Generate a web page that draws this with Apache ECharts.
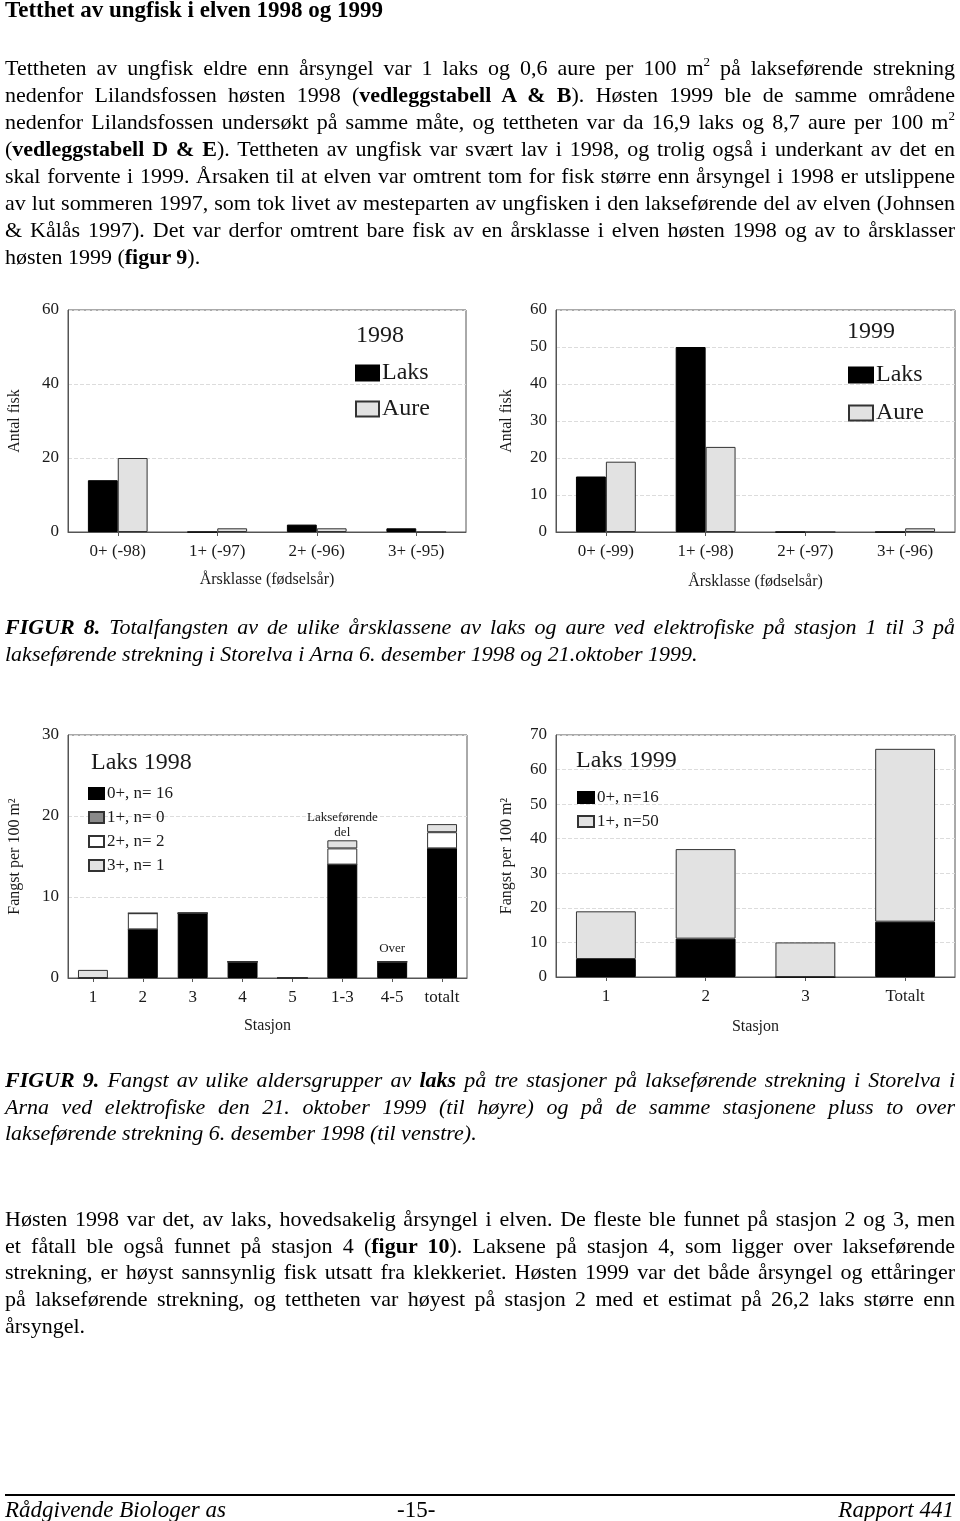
<!DOCTYPE html>
<html><head><meta charset="utf-8">
<script src="https://cdn.jsdelivr.net/npm/echarts@6/dist/echarts.min.js"></script>
<style>
html,body{margin:0;padding:0;background:#fff;}
#page{position:relative;width:960px;height:1521px;overflow:hidden;font-family:"Liberation Serif","Times New Roman",serif;color:#000;}
#chart{position:absolute;left:0;top:0;width:960px;height:1521px;z-index:1;}
.ln{position:absolute;left:5px;width:950px;font-size:22px;line-height:27px;white-space:normal;z-index:3;overflow:visible;}
.j{text-align:justify;text-align-last:justify;}
.i{font-style:italic;}
sup{font-size:13px;line-height:0;vertical-align:9px;}
#rule{position:absolute;left:5px;width:950px;top:1494px;height:0;border-top:2px solid #000;z-index:3;}
.ft{position:absolute;top:1496px;font-size:23px;line-height:27px;font-style:italic;z-index:3;}
</style></head>
<body><div id="page">
<div id="chart"></div>
<div class="ln" style="top:-4px;font-weight:bold;font-size:23px;">Tetthet av ungfisk i elven 1998 og 1999</div>

<div class="ln j" style="top:54px">Tettheten av ungfisk eldre enn årsyngel var 1 laks og 0,6 aure per 100 m<sup>2</sup> på lakseførende strekning</div>
<div class="ln j" style="top:81px">nedenfor Lilandsfossen høsten 1998 (<b>vedleggstabell A &amp; B</b>). Høsten 1999 ble de samme områdene</div>
<div class="ln j" style="top:108px">nedenfor Lilandsfossen undersøkt på samme måte, og tettheten var da 16,9 laks og 8,7 aure per 100 m<sup>2</sup></div>
<div class="ln j" style="top:135px">(<b>vedleggstabell D &amp; E</b>). Tettheten av ungfisk var svært lav i 1998, og trolig også i underkant av det en</div>
<div class="ln j" style="top:162px">skal forvente i 1999. Årsaken til at elven var omtrent tom for fisk større enn årsyngel i 1998 er utslippene</div>
<div class="ln j" style="top:189px">av lut sommeren 1997, som tok livet av mesteparten av ungfisken i den lakseførende del av elven (Johnsen</div>
<div class="ln j" style="top:216px">&amp; Kålås 1997). Det var derfor omtrent bare fisk av en årsklasse i elven høsten 1998 og av to årsklasser</div>
<div class="ln" style="top:243px">høsten 1999 (<b>figur 9</b>).</div>

<div class="ln j i" style="top:613px"><b>FIGUR 8.</b> Totalfangsten av de ulike årsklassene av laks og aure ved elektrofiske på stasjon 1 til 3 på</div>
<div class="ln i" style="top:640px">lakseførende strekning i Storelva i Arna 6. desember 1998 og 21.oktober 1999.</div>

<div class="ln j i" style="top:1066px"><b>FIGUR 9.</b> Fangst av ulike aldersgrupper av <b>laks</b> på tre stasjoner på lakseførende strekning i Storelva i</div>
<div class="ln j i" style="top:1093px">Arna ved elektrofiske den 21. oktober 1999 (til høyre) og på de samme stasjonene pluss to over</div>
<div class="ln i" style="top:1119px">lakseførende strekning 6. desember 1998 (til venstre).</div>

<div class="ln j" style="top:1205px">Høsten 1998 var det, av laks, hovedsakelig årsyngel i elven. De fleste ble funnet på stasjon 2 og 3, men</div>
<div class="ln j" style="top:1232px">et fåtall ble også funnet på stasjon 4 (<b>figur 10</b>). Laksene på stasjon 4, som ligger over lakseførende</div>
<div class="ln j" style="top:1258px">strekning, er høyst sannsynlig fisk utsatt fra klekkeriet. Høsten 1999 var det både årsyngel og ettåringer</div>
<div class="ln j" style="top:1285px">på lakseførende strekning, og tettheten var høyest på stasjon 2 med et estimat på 26,2 laks større enn</div>
<div class="ln" style="top:1312px">årsyngel.</div>

<div id="rule"></div>
<div class="ft" style="left:5px">Rådgivende Biologer as</div>
<div class="ft" style="left:397px;font-style:normal">-15-</div>
<div class="ft" style="right:6px">Rapport 441</div>
</div>
<script>
// fit text lines: justify if they fit, else compress horizontally
(function () {
  const W = 950;
  document.querySelectorAll('.ln').forEach(function (el) {
    el.style.whiteSpace = 'nowrap';
    el.style.width = 'auto';
    const w = el.getBoundingClientRect().width;
    if (w > W) {
      el.style.transformOrigin = '0 0';
      el.style.transform = 'scaleX(' + (W / w) + ')';
      el.style.textAlign = 'left';
      el.style.textAlignLast = 'auto';
    } else {
      el.style.whiteSpace = 'normal';
      el.style.width = W + 'px';
    }
  });
})();
</script>
<script>
// ---- data ----
const cats98 = ['0+ (-98)', '1+ (-97)', '2+ (-96)', '3+ (-95)'];
const laks98 = [14, 0, 2, 1];
const aure98 = [20, 1, 1, 0];

const cats99 = ['0+ (-99)', '1+ (-98)', '2+ (-97)', '3+ (-96)'];
const laks99 = [15, 50, 0, 0];
const aure99 = [19, 23, 0, 1];

const stations98 = ['1', '2', '3', '4', '5', '1-3', '4-5', 'totalt'];
const s98age0 = [0, 6, 8, 2, 0, 14, 2, 16];
const s98age1 = [0, 0, 0, 0, 0, 0, 0, 0];
const s98age2 = [0, 2, 0, 0, 0, 2, 0, 2];
const s98age3 = [1, 0, 0, 0, 0, 1, 0, 1];

const stations99 = ['1', '2', '3', 'Totalt'];
const s99age0 = [5.2, 11.1, 0, 16];
const s99age1 = [13.8, 25.9, 10, 50];

const yTicks1 = [0, 60, 20];
const yTicks2 = [0, 60, 10];
const yTicks3 = [0, 30, 10];
const yTicks4 = [0, 70, 10];

// ---- chart ----
const FF = '"Liberation Serif","Times New Roman",serif';
const TXT = '#1a1a1a';
const chart = echarts.init(document.getElementById('chart'), null, {renderer: 'canvas'});

function grid(l, t, w, h) {
  return {left: l, top: t, width: w, height: h, show: true, borderColor: '#555', borderWidth: 1,
    backgroundColor: 'transparent', containLabel: false, outerBoundsMode: 'none'};
}
function xAx(gi, data, name, gap) {
  return {type: 'category', gridIndex: gi, data: data, name: name, nameLocation: 'middle', nameGap: gap,
    nameTextStyle: {fontFamily: FF, fontSize: 16, color: TXT},
    axisLine: {show: true, lineStyle: {color: '#555', width: 1}},
    axisTick: {show: true, alignWithLabel: true, length: 4, lineStyle: {color: '#555'}},
    axisLabel: {fontFamily: FF, fontSize: 17, color: TXT, margin: 11, interval: 0},
    splitLine: {show: false}};
}
function yAx(gi, ticks, name, gap) {
  return {type: 'value', gridIndex: gi, min: ticks[0], max: ticks[1], interval: ticks[2], name: name,
    nameLocation: 'middle', nameGap: gap, nameRotate: 90,
    nameTextStyle: {fontFamily: FF, fontSize: 16, color: TXT},
    axisLine: {show: true, lineStyle: {color: '#555', width: 1}},
    axisTick: {show: false},
    axisLabel: {fontFamily: FF, fontSize: 17, color: TXT, margin: 9},
    splitLine: {show: true, lineStyle: {color: '#dcdcdc', type: 'dashed', width: 1}}};
}
function barS(name, gi, data, color, border, extra) {
  return Object.assign({type: 'bar', name: name, xAxisIndex: gi, yAxisIndex: gi, data: data,
    barGap: '0%', barCategoryGap: '40%', animation: false,
    itemStyle: {color: color, borderColor: border, borderWidth: 1}}, extra || {});
}
function legend(l, t, names, fs, iw, ih, gap) {
  return {left: l, top: t, orient: 'vertical', data: names, selectedMode: false, icon: 'rect',
    itemWidth: iw, itemHeight: ih, itemGap: gap, padding: 0,
    textStyle: {fontFamily: FF, fontSize: fs, lineHeight: fs, color: TXT, padding: [0, 0, 0, -2]}};
}
function ttl(text, l, t, fs) {
  return {text: text, left: l, top: t, padding: 0,
    textStyle: {fontFamily: FF, fontSize: fs, fontWeight: 'normal', color: TXT}};
}

const BLACK = '#000000', LG = '#e2e2e2', DG = '#8a8a8a', WH = '#ffffff', BD = '#333333';

const option = {
  backgroundColor: 'transparent',
  animation: false,
  textStyle: {fontFamily: FF},
  title: [
    ttl('1998', 356, 324, 24),
    ttl('1999', 847, 320, 24),
    ttl('Laks 1998', 91, 751, 24),
    ttl('Laks 1999', 576, 749, 24)
  ],
  legend: [
    legend(355, 361, ['Laks', 'Aure'], 24, 23, 15, 12),
    legend(848, 363, ['Laks', 'Aure'], 24, 24, 15, 14),
    legend(88, 785, ['0+, n= 16', '1+, n= 0', '2+, n= 2', '3+, n= 1'], 17, 15, 11, 7),
    legend(577, 789, ['0+, n=16', '1+, n=50'], 17, 16, 11, 7)
  ],
  grid: [
    grid(68, 310, 398, 222),
    grid(556, 310, 399, 222),
    grid(68, 735, 399, 243),
    grid(556, 735, 399, 242)
  ],
  xAxis: [
    xAx(0, cats98, 'Årsklasse (fødselsår)', 40),
    xAx(1, cats99, 'Årsklasse (fødselsår)', 42),
    xAx(2, stations98, 'Stasjon', 40),
    xAx(3, stations99, 'Stasjon', 42)
  ],
  yAxis: [
    yAx(0, yTicks1, 'Antal fisk', 45),
    yAx(1, yTicks2, 'Antal fisk', 41),
    yAx(2, yTicks3, 'Fangst per 100 m²', 45),
    yAx(3, yTicks4, 'Fangst per 100 m²', 41)
  ],
  series: [
    barS('Laks', 0, laks98, BLACK, BLACK),
    barS('Aure', 0, aure98, LG, BD),
    barS('Laks', 1, laks99, BLACK, BLACK),
    barS('Aure', 1, aure99, LG, BD),
    barS('0+, n= 16', 2, s98age0, BLACK, BLACK, {stack: 'a98'}),
    barS('1+, n= 0', 2, s98age1, DG, BD, {stack: 'a98'}),
    barS('2+, n= 2', 2, s98age2, WH, BD, {stack: 'a98'}),
    barS('3+, n= 1', 2, s98age3, LG, BD, {stack: 'a98',
      markPoint: {symbol: 'rect', symbolSize: 0, silent: true,
        label: {show: true, position: 'top', fontFamily: FF, fontSize: 13, lineHeight: 15, color: TXT,
          formatter: function (p) { return p.name; }},
        data: [
          {name: 'Lakseførende\ndel', coord: ['1-3', s98age0[5] + s98age1[5] + s98age2[5] + s98age3[5]], label: {distance: 0}},
          {name: 'Over', coord: ['4-5', s98age0[6] + s98age1[6] + s98age2[6] + s98age3[6]], label: {distance: 6}}
        ]}}),
    barS('0+, n=16', 3, s99age0, BLACK, BLACK, {stack: 'a99'}),
    barS('1+, n=50', 3, s99age1, LG, BD, {stack: 'a99'})
  ]
};
chart.setOption(option);
</script>
</body></html>
